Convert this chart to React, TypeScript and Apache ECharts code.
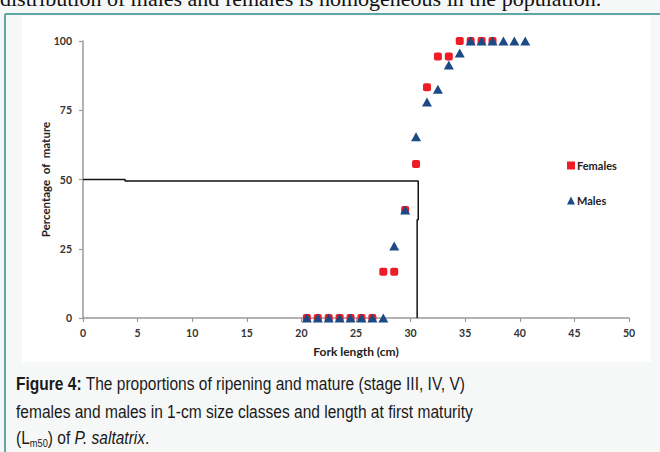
import React, { useEffect, useRef } from "react";
import * as echarts from "echarts";

// Length classes (cm, class mid-points)
const femaleLengths = [20.5, 21.5, 22.5, 23.5, 24.5, 25.5, 26.5, 27.5, 28.5, 29.5, 30.5, 31.5, 32.5, 33.5, 34.5, 35.5, 36.5, 37.5];
const femalesPct = [0, 0, 0, 0, 0, 0, 0, 16.7, 16.7, 39, 55.6, 83.3, 94.4, 94.4, 100, 100, 100, 100];
const maleLengths = [20.5, 21.5, 22.5, 23.5, 24.5, 25.5, 26.5, 27.5, 28.5, 29.5, 30.5, 31.5, 32.5, 33.5, 34.5, 35.5, 36.5, 37.5, 38.5, 39.5, 40.5];
const malesPct = [0, 0, 0, 0, 0, 0, 0, 0, 26, 39, 65.4, 78, 82.6, 91.3, 95.7, 100, 100, 100, 100, 100, 100];
// Lm50 guide line
const lm50X = [0, 3.85, 3.85, 30.7, 30.7, 30.6, 30.6];
const lm50Y = [50, 50, 49.5, 49.5, 35.5, 35.5, 0];

const xTicks = { min: 0, max: 50, interval: 5 };
const yTicks = { min: 0, max: 100, interval: 25 };

const topText = "distribution of males and females is homogeneous in the population.";
const captionLine1 = "{b|Figure 4:} The proportions of ripening and mature (stage III, IV, V)";
const captionLine2 = "females and males in 1-cm size classes and length at first maturity";
const captionLine3 = "(L{s|m50}) of {i|P. saltatrix}.";

const chartFont = "Lato, 'Open Sans', sans-serif";
const capFont = "'Liberation Sans Narrow', 'Liberation Sans', Arial, sans-serif";

export default function App() {
  const ref = useRef<HTMLDivElement>(null);
  useEffect(() => {
    if (!ref.current) return;
    const chart = echarts.init(ref.current, undefined, { renderer: "svg" });
    const capSize = 18.5;
    const capBase = { fontFamily: capFont, fontSize: capSize, fill: "#1a1a1a" };
    const capScale = 0.84;
    chart.setOption({
      animation: false,
      backgroundColor: "#f6f8f8",
      grid: { left: 83, top: 41, width: 546, height: 277, containLabel: false },
      legend: {
        orient: "vertical",
        left: 562,
        top: 155,
        itemWidth: 8,
        itemHeight: 8,
        itemGap: 24,
        data: [
          { name: "Females", icon: "rect" },
          { name: "Males", icon: "triangle" },
        ],
        textStyle: { fontFamily: chartFont, fontWeight: "bold", fontSize: 11, color: "#222", padding: [0, 0, 0, -3] },
      },
      xAxis: {
        type: "value",
        ...xTicks,
        name: "Fork length (cm)",
        nameLocation: "middle",
        nameGap: 27,
        nameTextStyle: { fontFamily: chartFont, fontWeight: "bold", fontSize: 12, color: "#222" },
        axisLine: { lineStyle: { color: "#9a9a9a", width: 1.5 } },
        axisTick: { show: true, length: 4, lineStyle: { color: "#9a9a9a", width: 1.2 } },
        axisLabel: { fontFamily: chartFont, fontWeight: "bold", fontSize: 10.5, color: "#333", margin: 9 },
        splitLine: { show: false },
      },
      yAxis: {
        type: "value",
        ...yTicks,
        name: "Percentage  of  mature",
        nameLocation: "middle",
        nameRotate: 90,
        nameGap: 32,
        nameMoveOverlap: false,
        nameTextStyle: { fontFamily: chartFont, fontWeight: "bold", fontSize: 11.5, color: "#222" },
        axisLine: { show: true, lineStyle: { color: "#9a9a9a", width: 1.5 } },
        axisTick: { show: true, length: 4, lineStyle: { color: "#9a9a9a", width: 1.2 } },
        axisLabel: { fontFamily: chartFont, fontWeight: "bold", fontSize: 10.5, color: "#333", margin: 11 },
        splitLine: { show: false },
      },
      series: [
        {
          name: "Lm50",
          type: "line",
          data: lm50X.map((x, i) => [x, lm50Y[i]]),
          symbol: "none",
          lineStyle: { color: "#111", width: 1.5 },
          z: 1,
        },
        {
          name: "Females",
          type: "scatter",
          data: femaleLengths.map((x, i) => [x, femalesPct[i]]),
          symbol: "roundRect",
          symbolSize: 8,
          itemStyle: { color: "#ee1c24", opacity: 1 },
          z: 2,
        },
        {
          name: "Males",
          type: "scatter",
          data: maleLengths.map((x, i) => [x, malesPct[i]]),
          symbol: "triangle",
          symbolSize: [10, 9],
          itemStyle: { color: "#1b4a86", opacity: 1 },
          z: 3,
        },
      ],
      graphic: [
        { type: "rect", z: -100, shape: { x: 22, y: 16, width: 629, height: 346 }, style: { fill: "#ffffff" } },
        { type: "line", z: -50, shape: { x1: 5, y1: 14, x2: 660, y2: 14 }, style: { stroke: "#5fa8a6", lineWidth: 2 } },
        { type: "line", z: -50, shape: { x1: 5, y1: 14, x2: 5, y2: 452 }, style: { stroke: "#5fa8a6", lineWidth: 2 } },
        {
          type: "text",
          x: 0,
          y: -2,
          style: { text: topText, fontFamily: "'Liberation Serif', 'DejaVu Serif', serif", fontSize: 22, fill: "#111", verticalAlign: "middle" },
        },
        {
          type: "text",
          x: 16,
          y: 384,
          scaleX: capScale,
          style: {
            ...capBase,
            text: captionLine1,
            verticalAlign: "middle",
            rich: { b: { fontFamily: capFont, fontSize: capSize, fontWeight: "bold", fill: "#1a1a1a" } },
          },
        },
        { type: "text", x: 16, y: 412, scaleX: capScale, style: { ...capBase, text: captionLine2, verticalAlign: "middle" } },
        {
          type: "text",
          x: 16,
          y: 438,
          scaleX: capScale,
          style: {
            ...capBase,
            text: captionLine3,
            verticalAlign: "middle",
            lineHeight: 22,
            rich: {
              s: { fontFamily: capFont, fontSize: 11, fill: "#1a1a1a", lineHeight: 13, verticalAlign: "bottom" },
              i: { fontFamily: capFont, fontSize: capSize, fontStyle: "italic", fill: "#1a1a1a" },
            },
          },
        },
      ],
    });
    return () => chart.dispose();
  }, []);
  return <div ref={ref} style={{ position: "fixed", left: 0, top: 0, width: 660, height: 452 }} />;
}
